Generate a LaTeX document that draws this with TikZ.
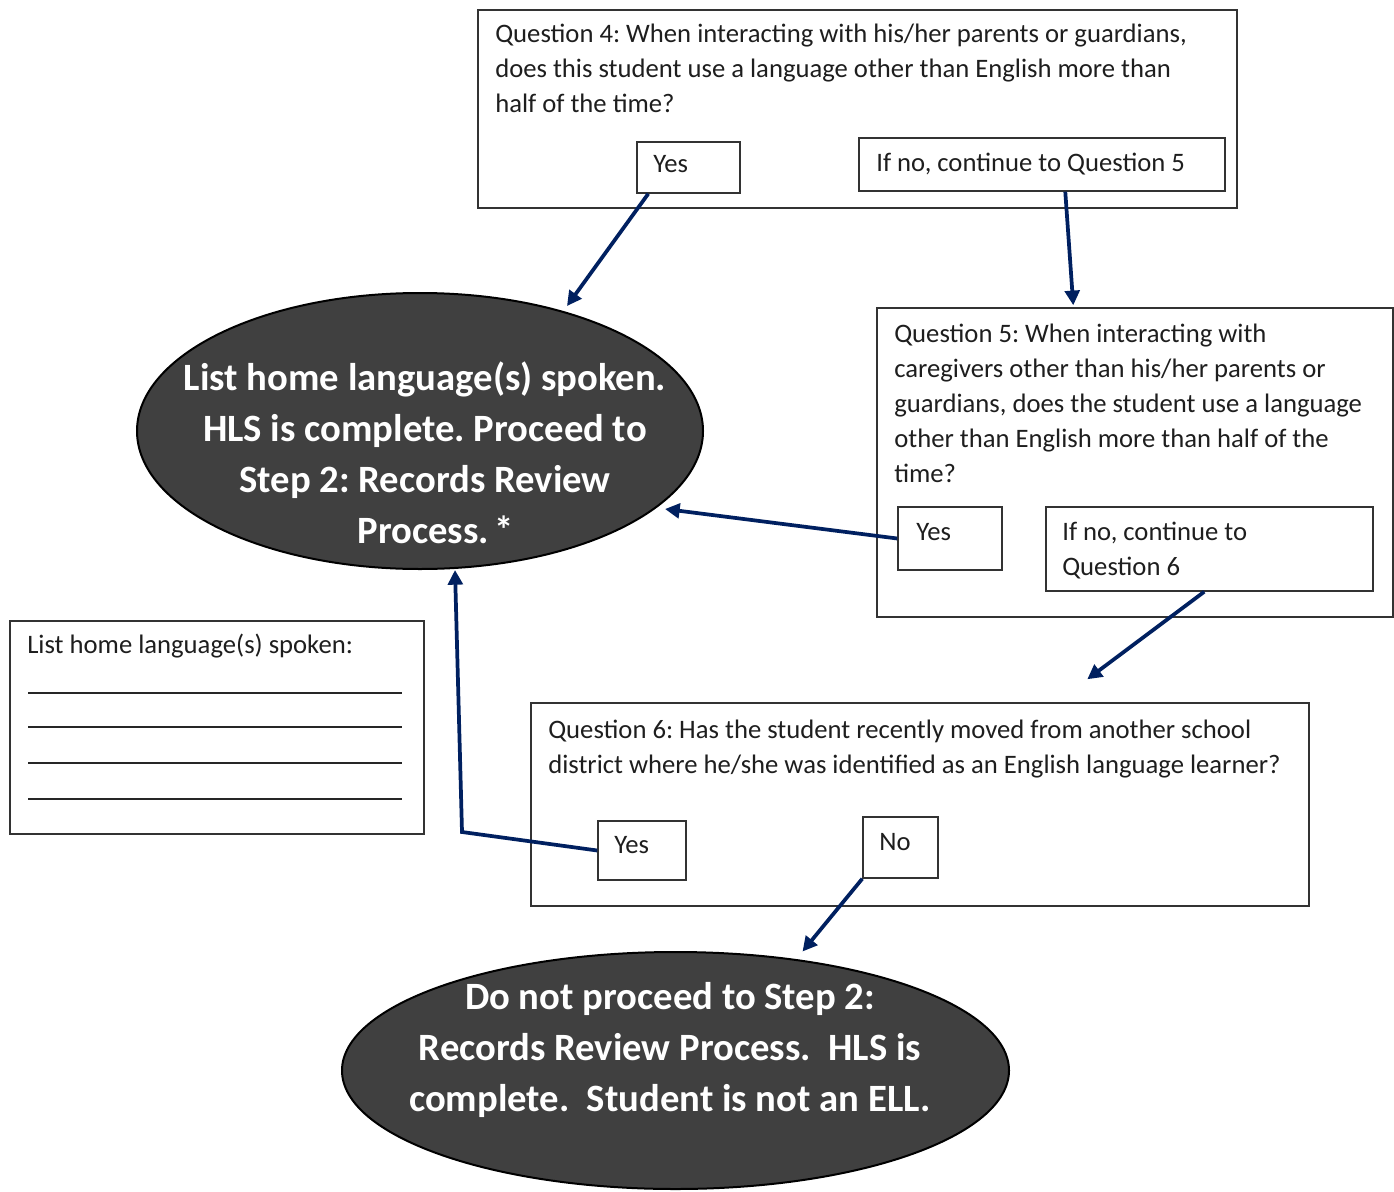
\documentclass[tikz,border=0pt]{standalone}
\usepackage{fontspec}
\setmainfont{Carlito}
\usetikzlibrary{arrows.meta,shapes.geometric,fit,calc}
\definecolor{navy}{RGB}{0,32,96}
\definecolor{ovalgray}{RGB}{64,64,64}
\definecolor{txt}{RGB}{30,30,30}
\frenchspacing
\begin{document}
\begin{tikzpicture}[x=0.75pt,y=-0.75pt,
 box/.style={draw=black!80, line width=1.1pt, inner sep=0pt},
 txtnode/.style={anchor=north west, inner sep=0pt, align=left, text=txt, font=\fontsize{20}{26.25}\selectfont},
 oval/.style={ellipse, draw=black, line width=1.5pt, fill=ovalgray, inner sep=0pt},
 ovaltxt/.style={anchor=north, inner sep=0pt, align=center, text=white, font=\fontsize{29}{38.25}\selectfont\bfseries},
 link/.style={draw=navy, line width=2.8pt, -{Triangle[length=11pt,width=11pt]}},
 rule/.style={draw=black!85, line width=1.1pt}
]
\useasboundingbox (0,0) rectangle (1394,1191);

% Question 4
\node[box, fit={(478,10) (1237,208)}] (q4) {};
\node[txtnode] (q4t) at (495,17.5) {\strut Question 4: When interacting with his/her parents or guardians,\\does this student use a language other than English more than\\half of the time?};
\node[box, fit={(637,142) (740,193)}] (q4yes) {};
\node[txtnode] (q4yest) at (653,147.5) {\strut Yes};
\node[box, fit={(859,138) (1225,191)}] (q4no) {};
\node[txtnode] (q4not) at (876,146.5) {\strut If no, continue to Question 5};

% Ellipse 1
\node[oval, minimum width=424.5pt, minimum height=207pt] (e1) at (420,431) {};
\node[ovaltxt] (e1t) at (425,354.3) {\strut List home language(s) spoken.\\HLS is complete. Proceed to\\Step 2: Records Review\\\hspace*{16pt}Process.\hspace{4pt}*};

% Question 5
\node[box, fit={(877,308) (1393,617)}] (q5) {};
\node[txtnode] (q5t) at (894,317.5) {\strut Question 5: When interacting with\\caregivers other than his/her parents or\\guardians, does the student use a language\\other than English more than half of the\\time?};
\node[box, fit={(898,507) (1002,570)}] (q5yes) {};
\node[txtnode] (q5yest) at (916,515.5) {\strut Yes};
\node[box, fit={(1046,507) (1373,591)}] (q5no) {};
\node[txtnode] (q5not) at (1062,515.5) {\strut If no, continue to\\Question 6};

% List box
\node[box, fit={(10,621) (424,834)}] (list) {};
\node[txtnode] (listt) at (27,628.5) {\strut List home language(s) spoken:};
\coordinate (l1a) at (28,693); \coordinate (l1b) at (402,693);
\coordinate (l2a) at (28,727); \coordinate (l2b) at (402,727);
\coordinate (l3a) at (28,763); \coordinate (l3b) at (402,763);
\coordinate (l4a) at (28,799); \coordinate (l4b) at (402,799);
\draw[rule] (l1a) -- (l1b);
\draw[rule] (l2a) -- (l2b);
\draw[rule] (l3a) -- (l3b);
\draw[rule] (l4a) -- (l4b);

% Question 6
\node[box, fit={(531,703) (1309,906)}] (q6) {};
\node[txtnode] (q6t) at (548,713.5) {\strut Question 6: Has the student recently moved from another school\\district where he/she was identified as an English language learner?};
\node[box, fit={(598,821) (686,880)}] (q6yes) {};
\node[txtnode] (q6yest) at (614,828.5) {\strut Yes};
\node[box, fit={(863,817) (938,878)}] (q6no) {};
\node[txtnode] (q6not) at (879,825.5) {\strut No};

% Ellipse 2
\node[oval, minimum width=500.25pt, minimum height=177.75pt] (e2) at (675.5,1070.5) {};
\node[ovaltxt] (e2t) at (670,973.3) {\strut Do not proceed to Step 2:\\Records Review Process.\ \ HLS is\\complete.\ \ Student is not an ELL.};

% Connectors
\draw[link] ($(q4yes.south west)+(12,0)$) -- ($(e1.center)+(147,-125)$);
\draw[link] ($(q4no.south west)+(207,0)$) -- ($(q5.north west)+(197,-2)$);
\draw[link] (q5yes.west) -- ($(e1.center)+(245,78)$);
\draw[link] ($(q5no.south west)+(159,0)$) -- ($(q6.north west)+(557,-23)$);
\coordinate (bend) at (462,832);
\draw[link] (q6yes.west) -- (bend) -- ($(e1.center)+(35,139)$);
\draw[link] (q6no.south west) -- ($(e2.center)+(127,-119)$);
\end{tikzpicture}
\end{document}
